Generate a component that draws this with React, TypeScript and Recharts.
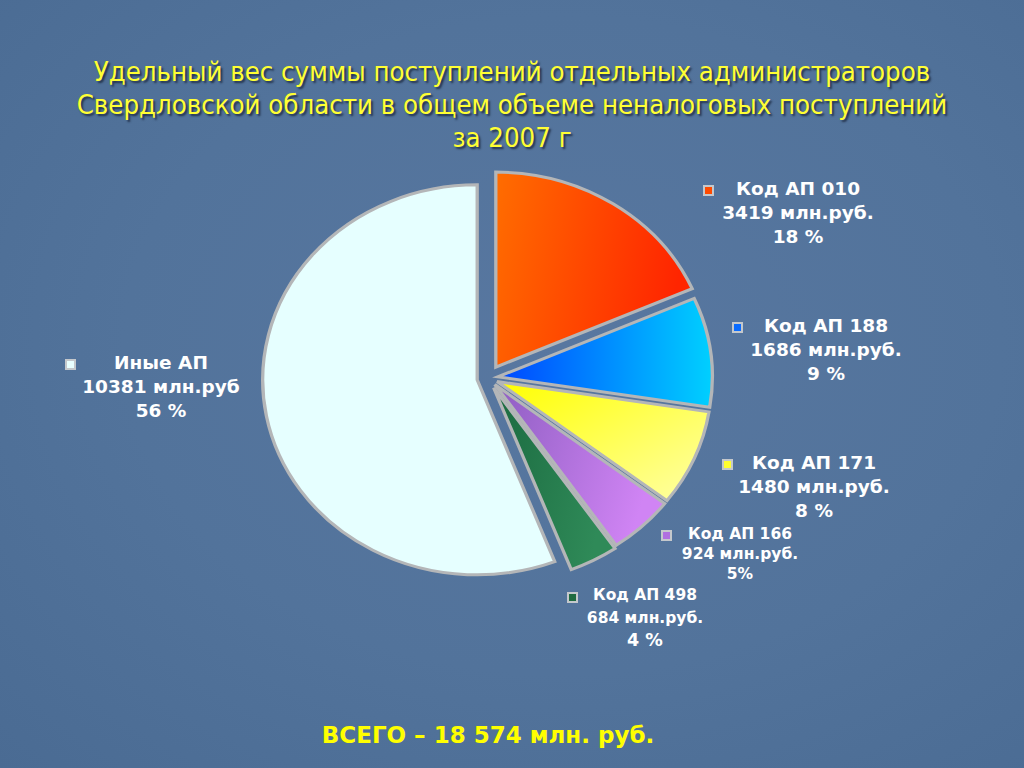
import { Cell, Pie, PieChart } from "recharts";

const names = ["Код АП 010", "Код АП 188", "Код АП 171", "Код АП 166", "Код АП 498", "Иные АП"];
const values = [3419, 1686, 1480, 924, 684, 10381];
const amountLabels = ["3419 млн.руб.", "1686 млн.руб.", "1480 млн.руб.", "924 млн.руб.", "684 млн.руб.", "10381 млн.руб"];
const shareLabels = ["18 %", "9 %", "8 %", "5%", "4 %", "56 %"];
const titleLines = [
  "Удельный вес суммы поступлений отдельных администраторов",
  "Свердловской области в общем объеме неналоговых поступлений",
  "за 2007 г",
];
const totalLabel = "ВСЕГО – 18 574 млн. руб.";

// slice look: gradient stops + how far each slice is pulled out
const gradients = [
  { from: "#ff6d00", to: "#ff2500", x2: 1, y2: 0.2 },
  { from: "#0046ff", to: "#00d0ff", x2: 1, y2: 0 },
  { from: "#ffff00", to: "#ffffa8", x2: 1, y2: 1 },
  { from: "#8e5ec2", to: "#d084f4", x2: 1, y2: 0.3 },
  { from: "#1b6a40", to: "#2f8a58", x2: 1, y2: 0.3 },
  { from: "#e6ffff", to: "#e6ffff", x2: 1, y2: 0 },
];
const markerFill = ["#ff4a00", "#0a6cff", "#ffff30", "#b070e0", "#1f6b40", "#e8ffff"];
const explode = [13, 9, 9, 9, 11, 10];

// label boxes (centre x, top, font size, line height, marker centre)
const labelPos = [
  { cx: 798, top: 177, fs: 18.5, lh: 24, mx: 708, my: 190 },
  { cx: 826, top: 314, fs: 18.5, lh: 24, mx: 737, my: 327 },
  { cx: 814, top: 451, fs: 18.5, lh: 24, mx: 727, my: 464 },
  { cx: 740, top: 524, fs: 15.5, lh: 20, mx: 666, my: 535 },
  { cx: 645, top: 584, fs: 15.5, lh: 22.5, mx: 572, my: 597 },
  { cx: 161, top: 351, fs: 18.5, lh: 24, mx: 70, my: 364 },
];

const data = names.map((name, i) => ({ name, value: values[i] }));
const total = values.reduce((a, b) => a + b, 0);
let acc = 0;
const midAngles = values.map((v) => {
  const m = 90 - ((acc + v / 2) / total) * 360;
  acc += v;
  return m;
});

const W = 560;
const H = 480;
const CX = 280;
const CY = 240;
const R = 195;

function Label({ i }: { i: number }) {
  const p = labelPos[i];
  const last = i === 4 ? 17.5 : p.fs;
  return (
    <>
      <div
        style={{
          position: "absolute",
          left: p.mx - 5.5,
          top: p.my - 5.5,
          width: 7,
          height: 7,
          background: markerFill[i],
          border: "2px solid #c4c8cc",
        }}
      />
      <div
        style={{
          position: "absolute",
          left: p.cx - 120,
          top: p.top,
          width: 240,
          textAlign: "center",
          color: "#ffffff",
          fontWeight: "bold",
          fontSize: p.fs,
          lineHeight: `${p.lh}px`,
          fontFamily: '"DejaVu Sans", Verdana, sans-serif',
          whiteSpace: "nowrap",
        }}
      >
        <div>{names[i]}</div>
        <div>{amountLabels[i]}</div>
        <div style={{ fontSize: last }}>{shareLabels[i]}</div>
      </div>
    </>
  );
}

export default function App() {
  const order = [5, 0, 1, 2, 3, 4];
  return (
    <div
      style={{
        position: "absolute",
        left: 0,
        top: 0,
        width: 1024,
        height: 768,
        overflow: "hidden",
        background: "radial-gradient(ellipse at 55% 45%, #5877a0 0%, #52739b 55%, #4a6b93 100%)",
      }}
    >
      <div
        style={{
          position: "absolute",
          left: 0,
          top: 55,
          width: 1024,
          textAlign: "center",
          color: "#ffff33",
          fontSize: 27.3,
          lineHeight: "33px",
          fontFamily: '"DejaVu Sans Condensed", "DejaVu Sans", sans-serif',
          fontStretch: "condensed",
          textShadow: "2px 2px 2px rgba(20,30,50,0.75)",
        }}
      >
        {titleLines.map((t) => (
          <div key={t}>{t}</div>
        ))}
      </div>

      <div
        style={{
          position: "absolute",
          left: 488 - CX,
          top: 378 - CY,
          width: W,
          height: H,
          transform: "scaleX(1.1)",
          transformOrigin: `${CX}px ${CY}px`,
        }}
      >
        <PieChart width={W} height={H} margin={{ top: 0, right: 0, bottom: 0, left: 0 }}>
          <defs>
            {gradients.map((g, i) => (
              <linearGradient key={i} id={`slice${i}`} x1="0" y1="0" x2={g.x2} y2={g.y2}>
                <stop offset="0%" stopColor={g.from} />
                <stop offset="100%" stopColor={g.to} />
              </linearGradient>
            ))}
          </defs>
          {order.map((i) => {
            const a = (midAngles[i] * Math.PI) / 180;
            return (
              <Pie
                key={i}
                data={data}
                dataKey="value"
                nameKey="name"
                cx={CX + explode[i] * Math.cos(a)}
                cy={CY - explode[i] * Math.sin(a)}
                outerRadius={R}
                startAngle={90}
                endAngle={-270}
                isAnimationActive={false}
              >
                {data.map((d, j) => (
                  <Cell
                    key={d.name}
                    fill={j === i ? `url(#slice${i})` : "none"}
                    stroke={j === i ? "#b4b6b8" : "none"}
                    strokeWidth={j === i ? 3 : 0}
                  />
                ))}
              </Pie>
            );
          })}
        </PieChart>
      </div>

      {order.map((i) => (
        <Label key={i} i={i} />
      ))}

      <div
        style={{
          position: "absolute",
          left: 0,
          top: 722,
          width: 976,
          textAlign: "center",
          color: "#ffff00",
          fontWeight: "bold",
          fontSize: 23,
          fontFamily: '"DejaVu Sans", Verdana, sans-serif',
        }}
      >
        {totalLabel}
      </div>
    </div>
  );
}
